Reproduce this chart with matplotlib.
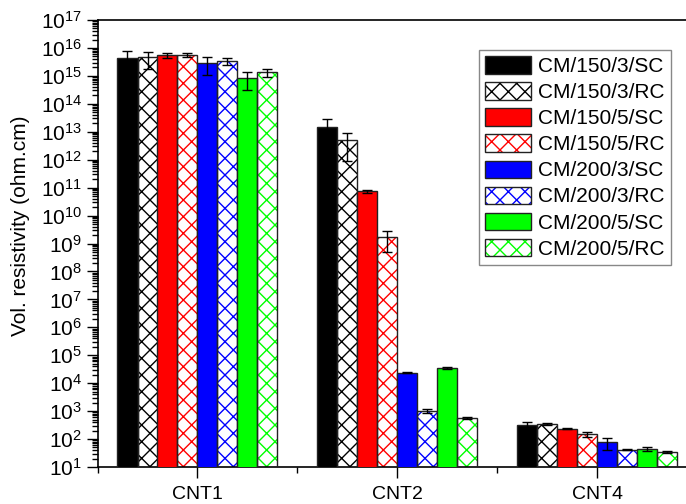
import matplotlib
matplotlib.use("Agg")
import matplotlib.pyplot as plt
import numpy as np
from matplotlib.patches import Patch
from matplotlib.ticker import FixedLocator, LogLocator, NullFormatter

plt.rcParams['font.family'] = ['Liberation Sans', 'DejaVu Sans']
plt.rcParams['mathtext.fontset'] = 'custom'
plt.rcParams['mathtext.rm'] = 'Liberation Sans'
plt.rcParams['mathtext.default'] = 'regular'
plt.rcParams['hatch.linewidth'] = 1.0

categories = ["CNT1", "CNT2", "CNT4"]
series = ["CM/150/3/SC", "CM/150/3/RC", "CM/150/5/SC", "CM/150/5/RC",
          "CM/200/3/SC", "CM/200/3/RC", "CM/200/5/SC", "CM/200/5/RC"]
colors = ["#000000", "#000000", "#ff0000", "#ff0000",
          "#0000ff", "#0000ff", "#00ff00", "#00ff00"]
hatched = [False, True, False, True, False, True, False, True]

# values per series: [CNT1, CNT2, CNT4]
values = [
    [4.3e15, 1.44e13, 3.2e2],
    [4.6e15, 4.9e12, 3.5e2],
    [5.6e15, 7.4e10, 2.3e2],
    [5.7e15, 1.7e9, 1.48e2],
    [2.95e15, 2.37e4, 7.6e1],
    [3.5e15, 1.03e3, 4.2e1],
    [8.5e14, 3.55e4, 4.5e1],
    [1.35e15, 5.7e2, 3.45e1],
]
errors = [
    [3.6e15, 1.5e13, 8.0e1],
    [2.8e15, 4.0e12, 2.0e1],
    [1.1e15, 1.1e10, 1.0e1],
    [1.0e15, 1.2e9, 2.6e1],
    [1.9e15, 1.0e3, 3.7e1],
    [1.0e15, 2.0e2, 3.0e0],
    [5.5e14, 3.0e3, 8.0e0],
    [4.2e14, 6.0e1, 3.0e0],
]

fig = plt.figure(figsize=(6.86, 5.04), dpi=100)
ax = fig.add_axes([97.5/686, 37/504, 600/686, 447/504])
ax.set_yscale('log')

width = 0.1
n = len(series)
xc = np.arange(len(categories))
handles = []
for i in range(n):
    x = xc + (i - (n - 1) / 2) * width
    v = np.array(values[i])
    e = np.array(errors[i])
    if hatched[i]:
        ax.bar(x, v, width, color='white', edgecolor=colors[i], hatch='xx', linewidth=0, zorder=2)
        ax.bar(x, v, width, fill=False, edgecolor='#222222', linewidth=1.0, zorder=3)
        h = (Patch(facecolor='white', edgecolor=colors[i], hatch='xx', linewidth=0),
             Patch(fill=False, edgecolor='#222222', linewidth=1.0))
    else:
        ax.bar(x, v, width, color=colors[i], edgecolor='#222222', linewidth=1.0, zorder=3)
        h = Patch(facecolor=colors[i], edgecolor='#222222', linewidth=1.0)
    lo = np.minimum(e, 0.9 * v)
    ax.errorbar(x, v, yerr=[lo, e], fmt='none', ecolor='black', elinewidth=1.0,
                capsize=3.5, capthick=1.0, zorder=4)
    handles.append(h)

ax.set_xlim(-0.5, 2.5)
ax.set_ylim(1e1, 1e17)
ax.set_xticks(xc)
ax.set_xticklabels(categories, fontsize=14)
ax.xaxis.set_minor_locator(FixedLocator([-0.5, 0.5, 1.5, 2.5]))

yt = [10.0**k for k in range(1, 18)]
ax.yaxis.set_major_locator(FixedLocator(yt))
ax.set_yticklabels([r'$10^{%d}$' % k for k in range(1, 18)], fontsize=15)
ax.yaxis.set_minor_locator(LogLocator(base=10, subs=np.arange(2, 10), numticks=100))
ax.yaxis.set_minor_formatter(NullFormatter())

ax.tick_params(axis='both', which='major', direction='out', length=8, width=1.0)
ax.tick_params(axis='both', which='minor', direction='out', length=4, width=1.0)
ax.tick_params(axis='x', which='major', pad=6)
ax.tick_params(axis='y', which='major', pad=3)
for s in ax.spines.values():
    s.set_linewidth(1.2)
ax.spines['right'].set_visible(False)

ax.set_ylabel('Vol. resistivity (ohm.cm)', fontsize=15)
ax.yaxis.set_label_coords(-0.112, 0.539)

leg = fig.legend(handles, series, loc='upper right',
                 bbox_to_anchor=(671/686, 1 - 50/504), fontsize=15,
                 handlelength=2.2, handleheight=0.9, labelspacing=0.3,
                 handletextpad=0.35, borderpad=0.3, borderaxespad=0,
                 fancybox=False, framealpha=1, edgecolor='#888888')
leg.get_frame().set_linewidth(1.0)

fig.savefig('out.png', dpi=100)
